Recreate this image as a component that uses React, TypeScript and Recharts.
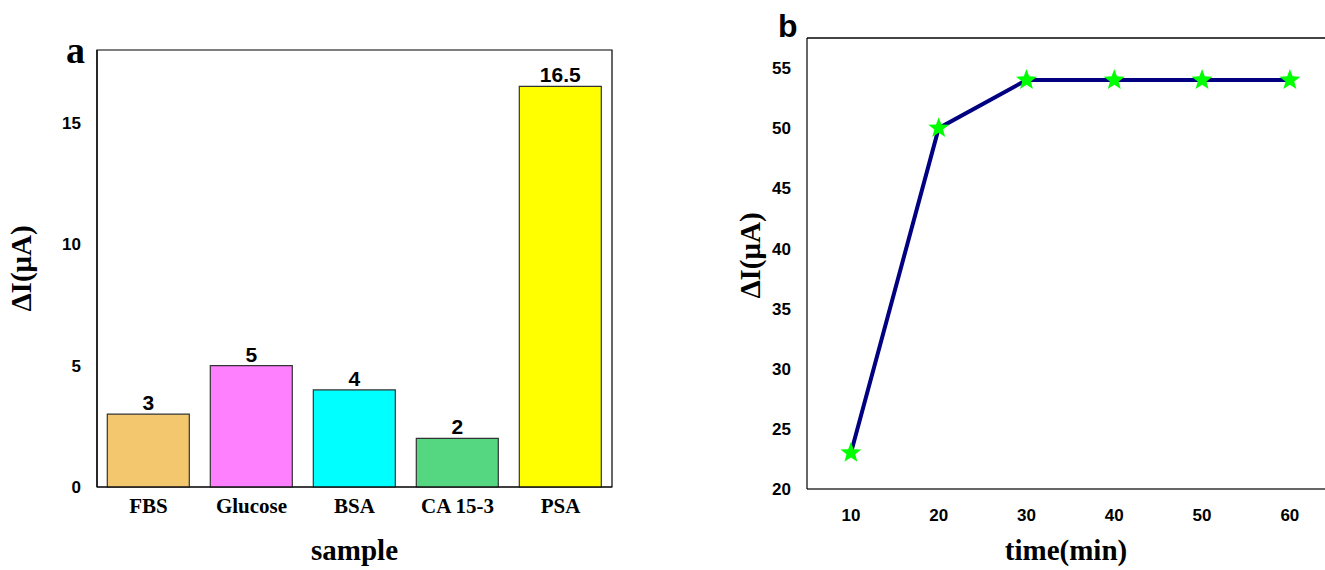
import React from "react";
import {
  BarChart,
  Bar,
  Cell,
  LineChart,
  Line,
  XAxis,
  YAxis,
  LabelList,
  ReferenceArea,
  ReferenceLine,
} from "recharts";

const samples = ["FBS", "Glucose", "BSA", "CA 15-3", "PSA"];
const sampleValues = [3, 5, 4, 2, 16.5];
const barColors = ["#F2C76E", "#FF80FF", "#00FFFF", "#55D680", "#FFFF00"];
const barTicks = [0, 5, 10, 15];

const times = [10, 20, 30, 40, 50, 60];
const currents = [23, 50, 54, 54, 54, 54];
const lineYTicks = [20, 25, 30, 35, 40, 45, 50, 55];
const lineXTicks = [10, 20, 30, 40, 50, 60];

const barData = samples.map((s, i) => ({ sample: s, value: sampleValues[i] }));
const lineData = times.map((t, i) => ({ time: t, value: currents[i] }));

const SANS = "Liberation Sans, Arial, sans-serif";
const SERIF = "Liberation Serif, Times New Roman, serif";

const Star = (props: any) => {
  const { cx, cy } = props;
  if (cx == null || cy == null) return null;
  const R = 11;
  const r = 4.6;
  const pts: string[] = [];
  for (let i = 0; i < 10; i++) {
    const rad = i % 2 === 0 ? R : r;
    const a = -Math.PI / 2 + (i * Math.PI) / 5;
    pts.push(`${cx + rad * Math.cos(a)},${cy + rad * Math.sin(a)}`);
  }
  return <polygon key={`s-${cx}-${cy}`} points={pts.join(" ")} fill="#00FF00" stroke="none" />;
};

export default function App() {
  return (
    <div style={{ position: "absolute", left: 0, top: 0, width: 1325, height: 570, background: "#fff" }}>
      <div style={{ position: "absolute", left: 0, top: 0 }}>
        <BarChart
          width={640}
          height={570}
          data={barData}
          margin={{ top: 50, right: 28, bottom: 0, left: 0 }}
          barCategoryGap="10%"
        >
          <XAxis
            dataKey="sample"
            height={83}
            axisLine={{ stroke: "#000", strokeWidth: 1.2 }}
            tickLine={false}
            tick={{ fill: "#000", fontFamily: SERIF, fontWeight: "bold", fontSize: 21 }}
            tickMargin={5}
            label={{ value: "sample", position: "insideBottom", offset: 10, fill: "#000", fontFamily: SERIF, fontWeight: "bold", fontSize: 29 }}
          />
          <YAxis
            type="number"
            domain={[0, 18]}
            ticks={barTicks}
            width={97}
            axisLine={{ stroke: "#000", strokeWidth: 1.2 }}
            tickLine={false}
            tick={{ fill: "#000", fontFamily: SANS, fontWeight: "bold", fontSize: 17 }}
            tickMargin={10}
            label={{ value: "ΔI(μA)", angle: -90, position: "insideLeft", offset: 21, fill: "#000", fontFamily: SERIF, fontWeight: "bold", fontSize: 29, style: { textAnchor: "middle" } }}
          />
          <ReferenceArea y1={0} y2={18} fill="none" fillOpacity={0} stroke="#000" strokeWidth={1.2} ifOverflow="visible" />
          <Bar dataKey="value" stroke="#333" strokeWidth={1.2} isAnimationActive={false}>
            {barData.map((d, i) => (
              <Cell key={d.sample} fill={barColors[i]} />
            ))}
            <LabelList dataKey="value" position="top" offset={4} fill="#000" fontFamily={SANS} fontWeight="bold" fontSize={21} />
          </Bar>
        </BarChart>
        <div style={{ position: "absolute", left: 66, top: 31, fontFamily: SERIF, fontWeight: "bold", fontSize: 38, lineHeight: "38px", color: "#000" }}>a</div>
      </div>
      <div style={{ position: "absolute", left: 680, top: 0 }}>
        <LineChart
          width={645}
          height={570}
          data={lineData}
          margin={{ top: 38, right: 0, bottom: 0, left: 0 }}
        >
          <XAxis
            dataKey="time"
            type="number"
            domain={[5, 64]}
            ticks={lineXTicks}
            height={81}
            axisLine={{ stroke: "#666", strokeWidth: 2 }}
            tickLine={false}
            tick={{ fill: "#000", fontFamily: SANS, fontWeight: "bold", fontSize: 17 }}
            tickMargin={14}
            label={{ value: "time(min)", position: "insideBottom", offset: 10, fill: "#000", fontFamily: SERIF, fontWeight: "bold", fontSize: 29 }}
          />
          <YAxis
            type="number"
            domain={[20, 57.5]}
            ticks={lineYTicks}
            width={127}
            axisLine={{ stroke: "#000", strokeWidth: 1.2 }}
            tickLine={false}
            tick={{ fill: "#000", fontFamily: SANS, fontWeight: "bold", fontSize: 17 }}
            tickMargin={10}
            label={{ value: "ΔI(μA)", angle: -90, position: "insideLeft", offset: 70, dy: -8, fill: "#000", fontFamily: SERIF, fontWeight: "bold", fontSize: 29, style: { textAnchor: "middle" } }}
          />
          <ReferenceLine y={57.5} stroke="#444" strokeWidth={2} ifOverflow="visible" />
          <Line
            dataKey="value"
            stroke="#000080"
            strokeWidth={4}
            dot={Star}
            activeDot={false}
            isAnimationActive={false}
          />
        </LineChart>
        <div style={{ position: "absolute", left: 98, top: 10, fontFamily: SANS, fontWeight: "bold", fontSize: 32, lineHeight: "32px", color: "#000" }}>b</div>
      </div>
    </div>
  );
}
